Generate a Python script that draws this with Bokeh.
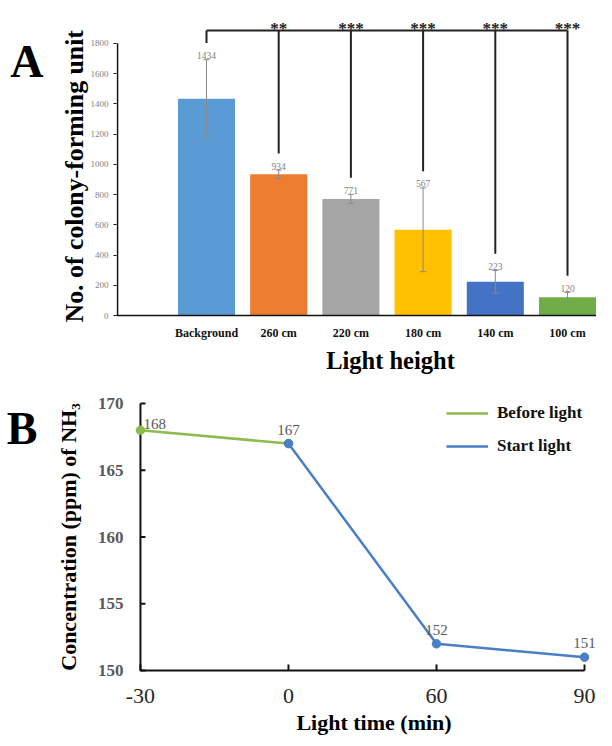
from math import pi
import numpy as np
from bokeh.plotting import figure
from bokeh.models import (ColumnDataSource, FixedTicker, Whisker, TeeHead,
                          Legend, LegendItem, Range1d, LinearAxis)
from bokeh.layouts import column
from bokeh.embed import file_html
from bokeh.resources import INLINE
from bokeh.core.properties import value

# ---------------- Panel A data ----------------
categories = ["Background", "260 cm", "220 cm", "180 cm", "140 cm", "100 cm"]
cfu_mean = [1434, 934, 771, 567, 223, 120]
cfu_err = [258, 28, 30, 277, 75, 33]
significance = ["**", "***", "***", "***", "***"]
bar_colors = ["#5B9BD5", "#ED7D31", "#A5A5A5", "#FFC000", "#4472C4", "#70AD47"]
cfu_ticks = [0, 200, 400, 600, 800, 1000, 1200, 1400, 1600, 1800]

# ---------------- Panel B data ----------------
time_labels = ["-30", "0", "60", "90"]
before_idx = [0, 1]
before_nh3 = [168, 167]
start_idx = [1, 2, 3]
start_nh3 = [167, 152, 151]
nh3_ticks = [150, 155, 160, 165, 170]

FONT = "Liberation Serif"
GREEN = "#8CBB4E"
BLUE = "#4A7EC6"


def no_ticks(ax, out=0, inn=0):
    ax.major_tick_out = out
    ax.major_tick_in = inn
    ax.minor_tick_out = 0
    ax.minor_tick_in = 0
    ax.minor_tick_line_color = None


def text_axis(pos, text, size, standoff, orientation="horizontal"):
    """An axis carrying a single text label (panel letters / titles)."""
    ax = LinearAxis(ticker=FixedTicker(ticks=[pos]), major_label_overrides={pos: text},
                    axis_line_color=None, major_tick_line_color=None,
                    major_label_standoff=standoff, major_label_orientation=orientation,
                    axis_label=None, axis_label_standoff=0)
    no_ticks(ax)
    ax.major_label_text_font = FONT
    ax.major_label_text_font_style = "bold"
    ax.major_label_text_font_size = size
    ax.major_label_text_color = "#000000"
    return ax


# ================= Panel A =================
x_pos = np.arange(1, len(categories) + 1)
upper = [m + e for m, e in zip(cfu_mean, cfu_err)]
lower = [m - e for m, e in zip(cfu_mean, cfu_err)]
src = ColumnDataSource(dict(x=x_pos, top=cfu_mean, upper=upper, lower=lower,
                            color=bar_colors, lab=[str(v) for v in cfu_mean]))

SX1 = 72.2          # px per category
AXIS_X = 1 - 89 / SX1
p1 = figure(width=596, height=376, x_range=Range1d(1 - 90 / SX1, 1 + 390 / SX1),
            y_range=Range1d(0, 2083.5), output_backend="svg",
            toolbar_location=None, min_border_left=116, min_border_right=0,
            min_border_top=0, min_border_bottom=60)
p1.grid.visible = False
p1.outline_line_color = None

p1.vbar(x="x", top="top", width=0.79, fill_color="color", line_color=None, source=src)
wh = Whisker(source=src, base="x", upper="upper", lower="lower", line_color="#8a8a8a",
             line_width=1, level="annotation",
             upper_head=TeeHead(size=6, line_color="#8a8a8a", line_width=1),
             lower_head=TeeHead(size=6, line_color="#8a8a8a", line_width=1))
p1.add_layout(wh)
p1.text(x="x", y="upper", text="lab", source=src, y_offset=-4, text_align="center",
        text_baseline="alphabetic", text_font=value(FONT), text_font_size="9.5px",
        text_color="#7f7f7f")

# y axis line stops at the last tick
p1.segment(x0=[AXIS_X], y0=[0], x1=[AXIS_X], y1=[cfu_ticks[-1]],
           line_color="#111111", line_width=1.6)

# significance bracket
BR_Y = 1885
drop_end = [u + 110 for u in upper]
p1.segment(x0=[x_pos[0]], y0=[BR_Y], x1=[x_pos[-1]], y1=[BR_Y], line_color="#222222",
           line_width=2)
p1.segment(x0=x_pos, y0=[BR_Y] * len(x_pos), x1=x_pos, y1=drop_end,
           line_color="#222222", line_width=2)
p1.text(x=x_pos[1:], y=[1900] * len(significance), text=significance, text_align="center",
        text_baseline="alphabetic", text_font=value(FONT), text_font_style="bold",
        text_font_size="17px", text_color="#222222")

xa = p1.xaxis[0]
xa.ticker = FixedTicker(ticks=list(x_pos))
xa.major_label_overrides = {int(i): c for i, c in zip(x_pos, categories)}
xa.axis_line_color = "#111111"
xa.axis_line_width = 1.6
xa.major_tick_line_color = None
no_ticks(xa)
xa.major_label_standoff = 10
xa.major_label_text_font = FONT
xa.major_label_text_font_style = "bold"
xa.major_label_text_font_size = "12px"
xa.major_label_text_color = "#111111"

ya = p1.yaxis[0]
ya.ticker = FixedTicker(ticks=cfu_ticks)
ya.axis_line_color = None
no_ticks(ya, out=3, inn=0)
ya.major_tick_line_color = "#111111"
ya.major_label_standoff = 5
ya.major_label_text_font = FONT
ya.major_label_text_font_size = "9px"
ya.major_label_text_color = "#7f7f7f"

p1.add_layout(text_axis(921, "No. of colony-forming unit", "25.8px", -2, "vertical"), "left")
p1.add_layout(text_axis(1678, "A", "46px", 14), "left")
p1.add_layout(text_axis(1 + 184 / SX1, "Light height", "24.5px", 4), "below")

# ================= Panel B =================
PX_X = 148.33   # px per category step
PX_Y = 13.35    # px per ppm
p2 = figure(width=596, height=362, x_range=Range1d(-24 / PX_X, 3 + 12 / PX_X),
            y_range=Range1d(150 - 3 / PX_Y, 170 + 3 / PX_Y), output_backend="svg",
            toolbar_location=None, min_border_left=116, min_border_right=0,
            min_border_top=24, min_border_bottom=65)
p2.grid.visible = False
p2.outline_line_color = None

x_min, x_max = 0, len(time_labels) - 1
all_idx = [0, 1, 2, 3]
# axis lines and inward ticks
p2.multi_line(xs=[[x_min, x_min, x_max]], ys=[[nh3_ticks[-1], nh3_ticks[0], nh3_ticks[0]]],
              line_color="#111111", line_width=2)
p2.segment(x0=[x_min] * len(nh3_ticks), y0=nh3_ticks,
           x1=[x_min + 5 / PX_X] * len(nh3_ticks), y1=nh3_ticks,
           line_color="#111111", line_width=2)
p2.segment(x0=all_idx, y0=[nh3_ticks[0]] * 4, x1=all_idx,
           y1=[nh3_ticks[0] + 6 / PX_Y] * 4, line_color="#111111", line_width=2)

g_line = p2.line(x=before_idx, y=before_nh3, line_color=GREEN, line_width=2.5)
p2.scatter(x=before_idx, y=before_nh3, size=8.5, fill_color=GREEN, line_color=GREEN)
b_line = p2.line(x=start_idx, y=start_nh3, line_color=BLUE, line_width=2.5)
p2.scatter(x=start_idx, y=start_nh3, size=8.5, fill_color=BLUE, line_color=BLUE)

all_val = [before_nh3[0]] + start_nh3
p2.text(x=all_idx[:1], y=all_val[:1], text=[str(v) for v in all_val[:1]], x_offset=3,
        y_offset=-6, text_align="left", text_baseline="alphabetic",
        text_font=value(FONT), text_font_size="15px", text_color="#595959")
p2.text(x=all_idx[1:], y=all_val[1:], text=[str(v) for v in all_val[1:]],
        y_offset=-14, text_align="center", text_baseline="alphabetic",
        text_font=value(FONT), text_font_size="15px", text_color="#595959")

legend = Legend(items=[LegendItem(label="Before light", renderers=[g_line]),
                       LegendItem(label="Start light", renderers=[b_line])],
                location=(330, 217), glyph_width=42, glyph_height=20, label_height=20,
                label_standoff=9, spacing=13, padding=0, margin=0,
                border_line_color=None, background_fill_alpha=0,
                label_text_font=FONT, label_text_font_style="bold",
                label_text_font_size="17px", label_text_color="#111111")
p2.add_layout(legend)

xb = p2.xaxis[0]
xb.ticker = FixedTicker(ticks=all_idx)
xb.major_label_overrides = {i: t for i, t in zip(all_idx, time_labels)}
xb.axis_line_color = None
xb.major_tick_line_color = None
no_ticks(xb)
xb.major_label_standoff = 15
xb.major_label_text_font = FONT
xb.major_label_text_font_size = "22px"
xb.major_label_text_color = "#262626"

yb = p2.yaxis[0]
yb.ticker = FixedTicker(ticks=nh3_ticks)
yb.axis_line_color = None
yb.major_tick_line_color = None
no_ticks(yb)
yb.major_label_standoff = -7
yb.major_label_text_font = FONT
yb.major_label_text_font_style = "bold"
yb.major_label_text_font_size = "17px"
yb.major_label_text_color = "#595959"
yb.axis_label = "Concentration (ppm) of NH₃"
yb.axis_label_standoff = 14
yb.axis_label_text_font = FONT
yb.axis_label_text_font_style = "bold"
yb.axis_label_text_font_size = "22px"
yb.axis_label_text_color = "#000000"

p2.add_layout(text_axis(168.16, "B", "46px", 15), "left")
p2.add_layout(text_axis(1.578, "Light time (min)", "22px", 4), "below")

layout = column(p1, p2, spacing=0)
open("out.html", "w").write(file_html(layout, INLINE))
